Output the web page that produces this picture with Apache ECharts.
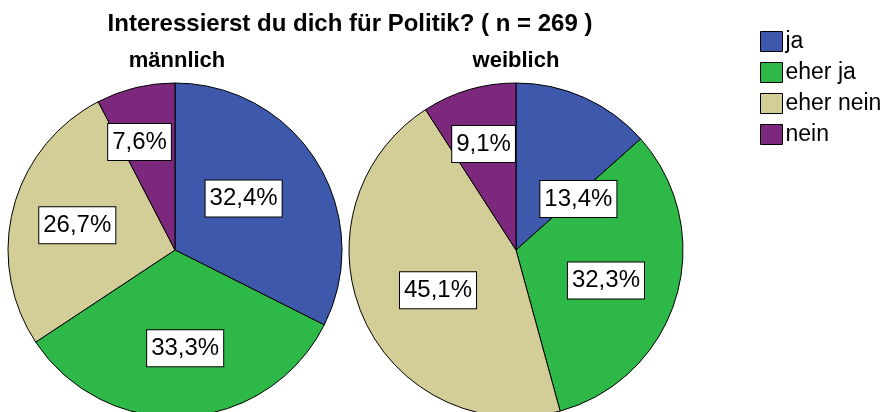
<!DOCTYPE html>
<html>
<head>
    <meta charset="utf-8">
    <title>Interessierst du dich für Politik?</title>
    <script src="https://cdn.jsdelivr.net/npm/echarts@6/dist/echarts.min.js"></script>
    <style>
        html, body { margin: 0; padding: 0; background: #fff; }
    </style>
</head>
<body>
    <div id="main" style="width: 886px;height:412px;"></div>
    <script type="text/javascript">
        // Daten
        var kategorien = ['ja', 'eher ja', 'eher nein', 'nein'];
        var farben = ['#3E58AC', '#2EB848', '#D3CE97', '#7C287D'];
        var maennlich = [32.4, 33.3, 26.7, 7.6];
        var weiblich = [13.4, 32.3, 45.1, 9.1];

        // Verschiebung der Beschriftungen gegenueber der Standardlage (wie in SPSS)
        var versatzM = [[-5, -6], [5, 12], [-14, -3], [-15, -24]];
        var versatzW = [[27, 28], [7, 6], [1, 5], [-8, -23]];

        var schrift = '"Liberation Sans", Arial, sans-serif';

        var myChart = echarts.init(document.getElementById('main'));

        function pieData(werte, versatz) {
            return werte.map(function (v, i) {
                return {
                    name: kategorien[i],
                    value: v,
                    itemStyle: { color: farben[i] },
                    label: { offset: versatz[i] }
                };
            });
        }

        function pieSeries(name, werte, versatz, cx) {
            return {
                name: name,
                type: 'pie',
                center: [cx, 250],
                radius: 167,
                startAngle: 90,
                clockwise: true,
                animation: false,
                silent: true,
                avoidLabelOverlap: false,
                minShowLabelAngle: 0,
                itemStyle: { borderColor: '#000', borderWidth: 1 },
                label: {
                    show: true,
                    position: 'inside',
                    formatter: function (p) {
                        return p.value.toFixed(1).replace('.', ',') + '%';
                    },
                    fontFamily: '"Liberation Sans Narrow", "Liberation Sans", Arial, sans-serif',
                    fontSize: 24,
                    color: '#000',
                    backgroundColor: '#fff',
                    borderColor: '#000',
                    borderWidth: 1,
                    padding: [7, 4, 5, 4]
                },
                labelLayout: { hideOverlap: false },
                labelLine: { show: false },
                data: pieData(werte, versatz)
            };
        }

        var option = {
            backgroundColor: '#fff',
            title: [
                {
                    text: 'Interessierst du dich für Politik? ( n = 269 )',
                    left: 345, top: 7, textAlign: 'center',
                    textStyle: { fontFamily: schrift, fontSize: 24, fontWeight: 'bold', color: '#000' }
                },
                {
                    text: 'männlich',
                    left: 172, top: 45, textAlign: 'center',
                    textStyle: { fontFamily: schrift, fontSize: 22, fontWeight: 'bold', color: '#000' }
                },
                {
                    text: 'weiblich',
                    left: 511, top: 45, textAlign: 'center',
                    textStyle: { fontFamily: schrift, fontSize: 22, fontWeight: 'bold', color: '#000' }
                }
            ],
            legend: {
                orient: 'vertical',
                left: 755,
                top: 25,
                icon: 'rect',
                itemWidth: 22,
                itemHeight: 20,
                itemGap: 8,
                selectedMode: false,
                data: kategorien.map(function (k, i) {
                    return { name: k, itemStyle: { color: farben[i], borderColor: '#000', borderWidth: 1 } };
                }),
                textStyle: { fontFamily: schrift, fontSize: 23, color: '#000', padding: [0, 0, 0, -2] }
            },
            series: [
                pieSeries('männlich', maennlich, versatzM, 175),
                pieSeries('weiblich', weiblich, versatzW, 516)
            ]
        };

        myChart.setOption(option);
    </script>
</body>
</html>
